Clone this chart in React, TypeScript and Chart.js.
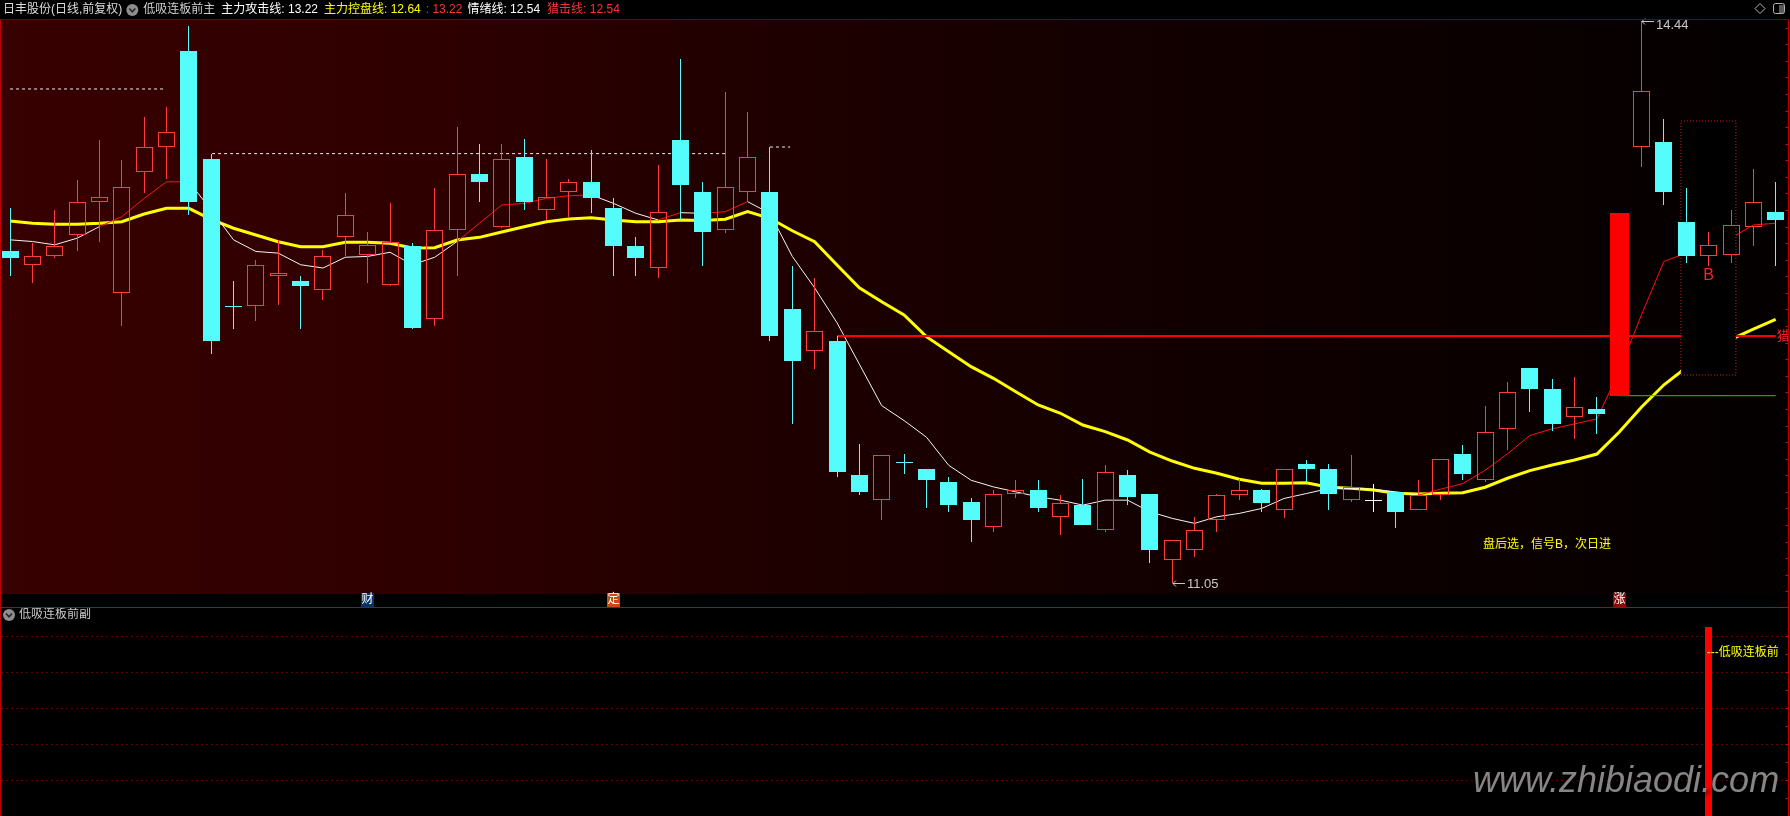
import React, { useEffect, useRef } from "react";
import { Chart, registerables } from "chart.js";

Chart.register(...registerables);

// ---------------- data ----------------
const opens = [13.05, 12.97, 13.02, 13.15, 13.35, 12.80, 13.53, 13.68, 14.26, 13.61,
  12.724, 12.72, 12.90, 12.87, 12.82, 13.14, 13.03, 12.85, 13.08, 12.64,
  13.18, 13.52, 13.20, 13.62, 13.30, 13.41, 13.47, 13.31, 13.08, 12.95,
  13.72, 13.41, 13.18, 13.41, 13.41, 12.70, 12.45, 12.51, 11.70, 11.55,
  11.78, 11.74, 11.66, 11.54, 11.39, 11.59, 11.61, 11.45, 11.52, 11.37,
  11.70, 11.59, 11.19, 11.25, 11.43, 11.58, 11.61, 11.49, 11.77, 11.74,
  11.55, 11.55, 11.60, 11.49, 11.58, 11.83, 11.67, 11.98, 12.35, 12.22,
  12.05, 12.10, 12.18, 13.68, 13.71, 13.23, 13.02, 13.03, 13.20, 13.29];
const highs = [13.31, 13.10, 13.30, 13.48, 13.72, 13.60, 13.86, 13.92, 14.41, 13.64,
  12.87, 13.00, 13.12, 12.90, 13.06, 13.40, 13.17, 13.34, 13.10, 13.43,
  13.80, 13.70, 13.70, 13.73, 13.61, 13.49, 13.66, 13.37, 13.14, 13.57,
  14.21, 13.47, 14.01, 13.89, 13.68, 12.96, 12.89, 12.54, 11.89, 11.82,
  11.83, 11.74, 11.69, 11.56, 11.61, 11.67, 11.67, 11.58, 11.68, 11.76,
  11.73, 11.59, 11.31, 11.45, 11.59, 11.68, 11.62, 11.74, 11.79, 11.77,
  11.82, 11.65, 11.60, 11.67, 11.80, 11.88, 12.12, 12.26, 12.35, 12.28,
  12.29, 12.17, 13.28, 14.44, 13.85, 13.43, 13.17, 13.30, 13.55, 13.47];
const lows = [12.90, 12.86, 13.01, 13.05, 13.11, 12.60, 13.40, 13.49, 13.27, 12.43,
  12.58, 12.63, 12.73, 12.58, 12.76, 13.02, 12.86, 12.84, 12.58, 12.60,
  12.90, 13.35, 13.19, 13.30, 13.24, 13.26, 13.28, 12.90, 12.90, 12.89,
  13.24, 12.96, 13.16, 13.35, 12.51, 12.01, 12.34, 11.69, 11.58, 11.43,
  11.71, 11.50, 11.48, 11.30, 11.36, 11.56, 11.48, 11.34, 11.40, 11.36,
  11.52, 11.17, 11.05, 11.21, 11.36, 11.55, 11.48, 11.44, 11.66, 11.49,
  11.54, 11.48, 11.38, 11.49, 11.55, 11.67, 11.66, 11.85, 12.08, 11.97,
  11.92, 11.95, 12.18, 13.56, 13.33, 12.98, 12.96, 12.98, 13.08, 12.96];
const closes = [13.01, 13.02, 13.08, 13.35, 13.38, 13.44, 13.68, 13.77, 13.35, 12.51,
  12.718, 12.97, 12.92, 12.84, 13.02, 13.27, 13.09, 13.11, 12.59, 13.18,
  13.52, 13.47, 13.61, 13.35, 13.38, 13.47, 13.37, 13.08, 13.01, 13.29,
  13.45, 13.17, 13.44, 13.62, 12.54, 12.39, 12.57, 11.72, 11.60, 11.82,
  11.774, 11.67, 11.52, 11.43, 11.59, 11.61, 11.50, 11.53, 11.40, 11.72,
  11.57, 11.25, 11.31, 11.37, 11.58, 11.61, 11.53, 11.74, 11.74, 11.59,
  11.63, 11.55, 11.48, 11.58, 11.80, 11.71, 11.96, 12.20, 12.22, 12.01,
  12.11, 12.07, 13.28, 14.02, 13.41, 13.02, 13.09, 13.21, 13.35, 13.24];

// 主力攻击线 (thin line)
const attackLine = [13.12, 13.11, 13.09, 13.13, 13.20, 13.26, 13.37, 13.47, 13.47, 13.30,
  13.12, 13.05, 13.04, 12.97, 12.95, 13.015, 13.02, 13.045, 12.97, 13.015,
  13.11, 13.22, 13.33, 13.34, 13.37, 13.386, 13.391, 13.34, 13.28, 13.24,
  13.284, 13.28, 13.29, 13.35, 13.28, 13.02, 12.83, 12.62, 12.37, 12.12,
  12.03, 11.93, 11.76, 11.67, 11.63, 11.60, 11.57, 11.55, 11.52, 11.55,
  11.55, 11.48, 11.44, 11.41, 11.45, 11.47, 11.50, 11.56, 11.59, 11.62,
  11.62, 11.616, 11.60, 11.58, 11.616, 11.65, 11.73, 11.83, 11.94, 11.98,
  12.01, 12.04, 12.33, 12.67, 12.99, 13.04, 13.09, 13.13, 13.21, 13.22];
// 主力控盘线 (thick yellow line)
const controlLine = [13.234, 13.22, 13.214, 13.214, 13.22, 13.229, 13.276, 13.31, 13.31, 13.244,
  13.19, 13.149, 13.109, 13.079, 13.079, 13.105, 13.105, 13.099, 13.071, 13.073,
  13.119, 13.135, 13.167, 13.199, 13.229, 13.246, 13.254, 13.24, 13.229, 13.229,
  13.24, 13.236, 13.244, 13.29, 13.25, 13.175, 13.109, 12.968, 12.831, 12.747,
  12.667, 12.536, 12.445, 12.355, 12.285, 12.204, 12.124, 12.074, 12.003, 11.963,
  11.913, 11.84, 11.786, 11.742, 11.712, 11.676, 11.652, 11.652, 11.655, 11.628,
  11.622, 11.611, 11.591, 11.587, 11.591, 11.595, 11.628, 11.682, 11.728, 11.762,
  11.792, 11.828, 11.961, 12.112, 12.246, 12.35, 12.436, 12.52, 12.581, 12.64];

const huntPrice = 12.54;          // 猎击线
const huntRange = [37, 79];
const emotionValue = 12.54;       // 情绪线
const limitUpIndex = 72;
const greenLevel = 12.18;
const greenRange = [72, 79];
const resistFrom = [0, 9.04, 34];
const resistTo = [6.93, 32, 34.9];
const resistPrice = [14.03, 13.64, 13.68];
const boxX = [74.76, 77.22];
const boxPrice = [12.305, 13.837];
const signalIndex = 76;
const signalText = "盘后选，信号B，次日进";
const signalTextPos = [65.9, 11.28];
const markerIndex = [16, 27, 72];
const markerText = ["财", "定", "涨"];
const markerBg = ["#0d3068", "#c8481a", "#8a0a0a"];
const subSignal = opens.map((_, i) => (i === signalIndex ? 1.05 : 0));
const subLabelValue = 0.91;
const subGridValues = [0.2, 0.4, 0.6, 0.8, 1.0];

// ---------------- style ----------------
const W = 1790;
const MAIN_H = 607;
const SUB_H = 209;
const X_MIN = -0.45;
const X_MAX = 79.55;
const PX_PER_BAR = 1788 / (X_MAX - X_MIN);
const RED = "#ff3c3c";
const CYAN = "#54fcfc";
const WHITE = "#ffffff";
const FONT = '"Liberation Sans", "Noto Sans CJK SC", sans-serif';

const isUp = (i: number) => closes[i] > opens[i];
const isDown = (i: number) => closes[i] < opens[i];
const candleColor = (i: number) => (isUp(i) ? RED : isDown(i) ? CYAN : WHITE);

function txt(ctx: any, s: string, x: number, y: number, color: string, size = 12, align = "left", extra = "") {
  ctx.font = `${extra}${size}px ${FONT}`;
  ctx.fillStyle = color;
  ctx.textAlign = align;
  ctx.textBaseline = "middle";
  ctx.fillText(s, x, y);
  return ctx.measureText(s).width;
}

function circleIcon(ctx: any, cx: number, cy: number) {
  ctx.fillStyle = "#8e8e8e";
  ctx.beginPath();
  ctx.arc(cx, cy, 6, 0, Math.PI * 2);
  ctx.fill();
  ctx.strokeStyle = "#262626";
  ctx.lineWidth = 1.6;
  ctx.beginPath();
  ctx.moveTo(cx - 3, cy - 1.5);
  ctx.lineTo(cx, cy + 1.8);
  ctx.lineTo(cx + 3, cy - 1.5);
  ctx.stroke();
}

function arrowLabel(ctx: any, x: number, y: number, label: string, ty: number) {
  ctx.strokeStyle = "#c8c8c8";
  ctx.lineWidth = 1;
  ctx.beginPath();
  ctx.moveTo(x + 1, y + 0.5);
  ctx.lineTo(x + 13, y + 0.5);
  ctx.moveTo(x + 1, y + 0.5);
  ctx.lineTo(x + 4, y - 2.5);
  ctx.moveTo(x + 1, y + 0.5);
  ctx.lineTo(x + 4, y + 3.5);
  ctx.stroke();
  txt(ctx, label, x + 15, ty, "#c8c8c8", 13);
}

// snap bar elements to whole pixels so thin candles stay crisp
const pixelSnap = {
  id: "pixelSnap",
  afterDatasetsUpdate(chart: any) {
    chart.data.datasets.forEach((_: any, di: number) => {
      const meta = chart.getDatasetMeta(di);
      if (meta.type !== "bar") return;
      meta.data.forEach((el: any) => {
        if (!el || !isFinite(el.x)) return;
        const w = Math.round(el.width);
        el.x = w % 2 === 1 ? Math.floor(el.x) + 0.5 : Math.round(el.x);
        el.width = w;
        if (isFinite(el.y)) el.y = Math.round(el.y);
        if (isFinite(el.base)) el.base = Math.round(el.base);
      });
    });
  },
};

const mainDecor = {
  id: "mainDecor",
  beforeDraw(chart: any) {
    const { ctx, chartArea: a } = chart;
    ctx.save();
    ctx.fillStyle = "#000";
    ctx.fillRect(0, 0, chart.width, chart.height);
    const g = ctx.createLinearGradient(a.left, 0, a.right, 0);
    g.addColorStop(0, "rgb(56,0,0)");
    g.addColorStop(0.25, "rgb(46,0,0)");
    g.addColorStop(0.45, "rgb(30,0,0)");
    g.addColorStop(0.67, "rgb(17,0,0)");
    g.addColorStop(0.9, "rgb(8,0,0)");
    g.addColorStop(1, "rgb(4,0,0)");
    ctx.fillStyle = g;
    ctx.fillRect(a.left, a.top, a.right - a.left, a.bottom - a.top);
    ctx.restore();
  },
  afterDatasetsDraw(chart: any) {
    const { ctx, chartArea: a } = chart;
    const xs = chart.scales.x;
    const ys = chart.scales.y;
    ctx.save();
    const hi = Math.max(...highs);
    const hiI = highs.indexOf(hi);
    const hx = Math.floor(xs.getPixelForValue(hiI));
    arrowLabel(ctx, hx, Math.round(ys.getPixelForValue(hi)), hi.toFixed(2), ys.getPixelForValue(hi) + 4);
    const lo = Math.min(...lows);
    const loI = lows.indexOf(lo);
    arrowLabel(ctx, Math.floor(xs.getPixelForValue(loI)), Math.round(ys.getPixelForValue(lo)), lo.toFixed(2), ys.getPixelForValue(lo) + 1);
    txt(ctx, "B", xs.getPixelForValue(signalIndex), ys.getPixelForValue(lows[signalIndex]) + 9, "#ff2020", 16, "center");
    txt(ctx, signalText, xs.getPixelForValue(signalTextPos[0]), ys.getPixelForValue(signalTextPos[1]), "#ffff00", 12);
    txt(ctx, "猎", xs.getPixelForValue(huntRange[1]) + 1, ys.getPixelForValue(huntPrice), "#ff2020", 13);
    markerIndex.forEach((mi, k) => {
      const cx = Math.floor(xs.getPixelForValue(mi));
      ctx.fillStyle = markerBg[k];
      ctx.fillRect(cx - 6, a.bottom - 1, 13, 14);
      txt(ctx, markerText[k], cx + 0.5, a.bottom + 6, "#ffffff", 12, "center");
    });
    let x = 3;
    const hy = 10;
    x += txt(ctx, "日丰股份(日线,前复权)", x, hy, "#dcdcdc", 12);
    circleIcon(ctx, x + 10, hy);
    x += 21;
    x += txt(ctx, "低吸连板前主", x, hy, "#d0d0d0", 12) + 6;
    x += txt(ctx, "主力攻击线: " + attackLine[attackLine.length - 1].toFixed(2), x, hy, "#ffffff", 12) + 6;
    x += txt(ctx, "主力控盘线: " + controlLine[controlLine.length - 1].toFixed(2), x, hy, "#ffff00", 12) + 5;
    x += txt(ctx, ": " + attackLine[attackLine.length - 1].toFixed(2), x, hy, "#ff3232", 12) + 5;
    x += txt(ctx, "情绪线: " + emotionValue.toFixed(2), x, hy, "#ffffff", 12) + 7;
    txt(ctx, "猎击线: " + huntPrice.toFixed(2), x, hy, "#ff3232", 12);
    ctx.strokeStyle = "#b4b4b4";
    ctx.lineWidth = 1;
    ctx.beginPath();
    ctx.moveTo(1760, 3.5);
    ctx.lineTo(1765, 8.5);
    ctx.lineTo(1760, 13.5);
    ctx.lineTo(1755, 8.5);
    ctx.closePath();
    ctx.stroke();
    ctx.fillStyle = "#5a5a5a";
    ctx.fillRect(1779, 5, 5, 8);
    ctx.beginPath();
    ctx.roundRect(1773.5, 3.5, 11, 10, 2);
    ctx.stroke();
    ctx.strokeStyle = "#7a0000";
    ctx.beginPath();
    ctx.moveTo(0, a.top - 0.5);
    ctx.lineTo(1789, a.top - 0.5);
    ctx.stroke();
    ctx.strokeStyle = "#c00000";
    ctx.beginPath();
    ctx.moveTo(0.5, a.top);
    ctx.lineTo(0.5, chart.height);
    ctx.moveTo(1788.5, a.top);
    ctx.lineTo(1788.5, chart.height);
    ctx.stroke();
    ctx.beginPath();
    for (let p = 11.0; p <= 14.41; p += 0.1) {
      const y = Math.round(ys.getPixelForValue(p)) + 0.5;
      ctx.moveTo(1785, y);
      ctx.lineTo(1788, y);
    }
    ctx.stroke();
    ctx.restore();
  },
};

const subDecor = {
  id: "subDecor",
  beforeDraw(chart: any) {
    const { ctx } = chart;
    ctx.save();
    ctx.fillStyle = "#000";
    ctx.fillRect(0, 0, chart.width, chart.height);
    ctx.restore();
  },
  beforeDatasetsDraw(chart: any) {
    const { ctx } = chart;
    const ys = chart.scales.y;
    ctx.save();
    ctx.strokeStyle = "#d00000";
    ctx.lineWidth = 1;
    ctx.setLineDash([1, 4]);
    ctx.beginPath();
    subGridValues.forEach((v) => {
      const y = Math.round(ys.getPixelForValue(v)) + 0.5;
      ctx.moveTo(1.5, y);
      ctx.lineTo(1788, y);
    });
    ctx.stroke();
    ctx.restore();
  },
  afterDatasetsDraw(chart: any) {
    const { ctx } = chart;
    const xs = chart.scales.x;
    const ys = chart.scales.y;
    ctx.save();
    txt(ctx, "---低吸连板前", xs.getPixelForValue(signalIndex) - 2, ys.getPixelForValue(subLabelValue), "#ffff00", 12);
    circleIcon(ctx, 9, 8);
    txt(ctx, "低吸连板前副", 19, 8, "#c8c8c8", 12);
    ctx.shadowColor = "rgba(0,0,0,0.9)";
    ctx.shadowBlur = 4;
    ctx.shadowOffsetX = 2;
    ctx.shadowOffsetY = 2;
    ctx.font = `italic 36px ${FONT}`;
    ctx.fillStyle = "#868686";
    ctx.textAlign = "left";
    ctx.textBaseline = "alphabetic";
    ctx.fillText("www.zhibiaodi.com", 1473, 185);
    ctx.shadowColor = "transparent";
    ctx.strokeStyle = "#c00000";
    ctx.lineWidth = 1;
    ctx.beginPath();
    ctx.moveTo(0, 0.5);
    ctx.lineTo(1789, 0.5);
    ctx.moveTo(0.5, 0);
    ctx.lineTo(0.5, chart.height);
    ctx.moveTo(1788.5, 0);
    ctx.lineTo(1788.5, chart.height);
    for (let v = 0.1; v <= 1.05; v += 0.1) {
      const y = Math.round(ys.getPixelForValue(v)) + 0.5;
      ctx.moveTo(1785, y);
      ctx.lineTo(1788, y);
    }
    ctx.stroke();
    ctx.restore();
  },
};

export default function App() {
  const mainRef = useRef<HTMLCanvasElement>(null);
  const subRef = useRef<HTMLCanvasElement>(null);

  useEffect(() => {
    Chart.defaults.font.family = FONT;
    const idx = opens.map((_, i) => i);
    const xScale = { type: "linear", min: X_MIN, max: X_MAX, display: false, offset: false, grid: { display: false } };
    const barBase = { type: "bar", grouped: false, inflateAmount: 0, borderSkipped: false };
    const pts = (arr: number[]) => arr.map((v, i) => ({ x: i, y: v }));
    const hline = (from: number, to: number, y: number) => [{ x: from, y }, { x: to, y }];

    const datasets: any[] = [
      {
        type: "line", data: pts(controlLine), borderColor: "#ffff00", borderWidth: 3,
        pointRadius: 0, tension: 0, order: 30,
      },
      {
        type: "line", data: pts(attackLine), borderColor: WHITE, borderWidth: 1,
        pointRadius: 0, tension: 0, order: 29,
        segment: {
          borderColor: (c: any) => {
            const i = c.p1DataIndex;
            return attackLine[i] > controlLine[i] && attackLine[i] >= attackLine[i - 1] ? "#ff1010" : "#f4f4f4";
          },
        },
      },
      {
        type: "line", data: hline(huntRange[0], huntRange[1], huntPrice), borderColor: "#ff0000",
        borderWidth: 2, pointRadius: 0, order: 28,
      },
      {
        type: "line", data: hline(greenRange[0], greenRange[1], greenLevel), borderColor: "#00e000",
        borderWidth: 1, pointRadius: 0, order: 27,
      },
      ...resistPrice.map((p, k) => ({
        type: "line", data: hline(resistFrom[k], resistTo[k], p), borderColor: "#eeeeee",
        borderWidth: 1, borderDash: [3, 3], pointRadius: 0, order: 26 - k,
      })),
      {
        ...barBase, data: [{ x: (boxX[0] + boxX[1]) / 2, y: [boxPrice[0], boxPrice[1]] }],
        barThickness: (boxX[1] - boxX[0]) * PX_PER_BAR, backgroundColor: "#000000", borderWidth: 0, order: 8,
      },
      {
        type: "line",
        data: [
          { x: boxX[0], y: boxPrice[1] }, { x: boxX[1], y: boxPrice[1] }, { x: boxX[1], y: boxPrice[0] },
          { x: boxX[0], y: boxPrice[0] }, { x: boxX[0], y: boxPrice[1] },
        ],
        borderColor: "#d02020", borderWidth: 1, borderDash: [1, 2], pointRadius: 0, order: 7,
      },
      {
        ...barBase, data: idx.map((i) => ({ x: i, y: [Math.max(opens[i], closes[i]), highs[i]] })),
        barThickness: 1, backgroundColor: (c: any) => candleColor(c.dataIndex), borderWidth: 0, order: 5,
      },
      {
        ...barBase, data: idx.map((i) => ({ x: i, y: [lows[i], Math.min(opens[i], closes[i])] })),
        barThickness: 1, backgroundColor: (c: any) => candleColor(c.dataIndex), borderWidth: 0, order: 4,
      },
      {
        ...barBase,
        data: idx.map((i) => ({
          x: i,
          y: opens[i] === closes[i] ? [opens[i] - 0.003, opens[i] + 0.003] : [Math.min(opens[i], closes[i]), Math.max(opens[i], closes[i])],
        })),
        barThickness: 17,
        backgroundColor: (c: any) => (isUp(c.dataIndex) ? "rgba(0,0,0,0)" : candleColor(c.dataIndex)),
        borderColor: (c: any) => candleColor(c.dataIndex),
        borderWidth: (c: any) => (isUp(c.dataIndex) ? 1 : 0),
        order: 3,
      },
      {
        ...barBase, data: [{ x: limitUpIndex, y: [opens[limitUpIndex], closes[limitUpIndex]] }],
        barThickness: 19, backgroundColor: "#ff0000", borderWidth: 0, order: 2,
      },
    ];

    const main = new Chart(mainRef.current as any, {
      type: "bar",
      data: { datasets },
      options: {
        animation: false, responsive: false, devicePixelRatio: 1, events: [],
        layout: { padding: { left: 0, right: 2, top: 20, bottom: 13 } },
        scales: {
          x: xScale as any,
          y: { type: "linear", min: 10.984, max: 14.446, display: false, beginAtZero: false, grid: { display: false } },
        },
        plugins: { legend: { display: false }, tooltip: { enabled: false } },
      },
      plugins: [pixelSnap, mainDecor],
    } as any);

    const sub = new Chart(subRef.current as any, {
      type: "bar",
      data: {
        datasets: [
          {
            ...barBase, data: pts(subSignal), barThickness: 7, backgroundColor: "#ff0000", borderWidth: 0,
          },
        ],
      },
      options: {
        animation: false, responsive: false, devicePixelRatio: 1, events: [],
        layout: { padding: { left: 0, right: 2, top: 11, bottom: 0 } },
        scales: {
          x: xScale as any,
          y: { type: "linear", min: 0, max: 1.1, display: false, grid: { display: false } },
        },
        plugins: { legend: { display: false }, tooltip: { enabled: false } },
      },
      plugins: [pixelSnap, subDecor],
    } as any);

    return () => {
      main.destroy();
      sub.destroy();
    };
  }, []);

  return (
    <div style={{ position: "fixed", left: 0, top: 0, width: W, height: MAIN_H + SUB_H, background: "#000", overflow: "hidden" }}>
      <canvas ref={mainRef} width={W} height={MAIN_H} style={{ position: "absolute", left: 0, top: 0, width: W, height: MAIN_H }} />
      <canvas ref={subRef} width={W} height={SUB_H} style={{ position: "absolute", left: 0, top: MAIN_H, width: W, height: SUB_H }} />
    </div>
  );
}
